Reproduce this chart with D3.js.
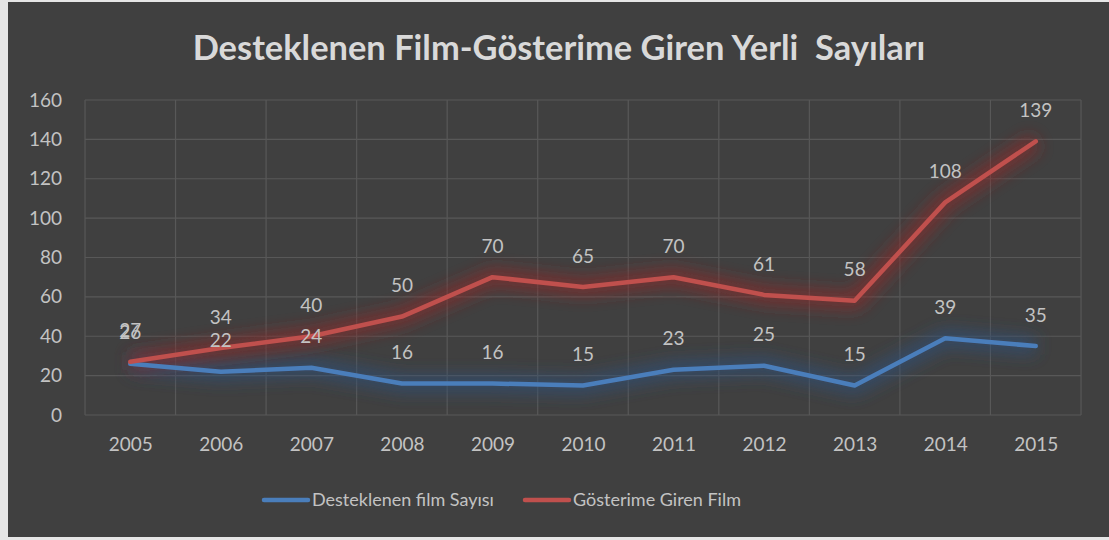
<!DOCTYPE html>
<html>
<head>
<meta charset="utf-8">
<script src="https://cdn.jsdelivr.net/npm/d3@7"></script>
<style>
  body { margin: 0; background: #ffffff; }
  svg { display: block; }
</style>
</head>
<body>
<div id="chart"></div>
<script>
const years = ["2005", "2006", "2007", "2008", "2009", "2010", "2011", "2012", "2013", "2014", "2015"];
const desteklenen = [26, 22, 24, 16, 16, 15, 23, 25, 15, 39, 35];
const gosterime = [27, 34, 40, 50, 70, 65, 70, 61, 58, 108, 139];
const yTicks = [0, 20, 40, 60, 80, 100, 120, 140, 160];
const seriesNames = ["Desteklenen film Sayısı", "Gösterime Giren Film"];
const title = "Desteklenen Film-Gösterime Giren Yerli  Sayıları";

const W = 1109, H = 540;
const font = "Lato, 'Open Sans', sans-serif";

const svg = d3.select("#chart")
  .append("svg")
  .attr("width", W)
  .attr("height", H);

// outer frame (light edge on left / top / bottom)
svg.append("rect").attr("width", W).attr("height", H).attr("fill", "#e6e6e6");
svg.append("rect")
  .attr("x", 8).attr("y", 2)
  .attr("width", W - 8).attr("height", H - 5)
  .attr("fill", "#404040");

const margin = { top: 100, left: 85, right: 28, bottom: 125 };
const plotW = W - margin.left - margin.right;
const plotH = H - margin.top - margin.bottom;

const x = d3.scalePoint()
  .domain(years)
  .range([0, plotW])
  .padding(0.5);

const band = plotW / years.length;

const y = d3.scaleLinear()
  .domain([0, 160])
  .range([plotH, 0]);

const defs = svg.append("defs");
["blue", "red"].forEach(id => {
  const f = defs.append("filter").attr("id", "glow-" + id)
    .attr("x", "-20%").attr("y", "-50%").attr("width", "140%").attr("height", "200%");
  f.append("feGaussianBlur").attr("in", "SourceGraphic").attr("stdDeviation", 8);
});

const g = svg.append("g")
  .attr("transform", `translate(${margin.left},${margin.top})`);

// gridlines
g.append("g")
  .selectAll("line")
  .data(yTicks)
  .enter()
  .append("line")
  .attr("x1", 0).attr("x2", plotW)
  .attr("y1", d => y(d)).attr("y2", d => y(d))
  .attr("stroke", "#585858")
  .attr("stroke-width", 1.2);

g.append("g")
  .selectAll("line")
  .data(d3.range(years.length + 1))
  .enter()
  .append("line")
  .attr("x1", d => d * band).attr("x2", d => d * band)
  .attr("y1", 0).attr("y2", plotH)
  .attr("stroke", "#585858")
  .attr("stroke-width", 1.2);

// y axis labels
const yAxis = g.append("g")
  .attr("transform", "translate(-23,0)")
  .call(d3.axisLeft(y).tickValues(yTicks).tickSize(0).tickPadding(0));
yAxis.select(".domain").remove();
yAxis.selectAll("text")
  .attr("fill", "#c3c3c3")
  .style("font-family", font)
  .style("font-size", "19px");

// x axis labels
const xAxis = g.append("g")
  .attr("transform", `translate(0,${plotH + 22})`)
  .call(d3.axisBottom(x).tickSize(0).tickPadding(0));
xAxis.select(".domain").remove();
xAxis.selectAll("text")
  .attr("fill", "#c3c3c3")
  .style("font-family", font)
  .style("font-size", "19px");

const line = d3.line()
  .x((d, i) => x(years[i]))
  .y(d => y(d));

const series = [
  { values: desteklenen, color: "#4a7ebb", glow: "#2f4f78", id: "blue" },
  { values: gosterime, color: "#c0504d", glow: "#8a2a28", id: "red" }
];

// glow under lines
series.forEach(s => {
  g.append("path")
    .datum(s.values)
    .attr("d", line)
    .attr("fill", "none")
    .attr("stroke", s.glow)
    .attr("stroke-width", 18)
    .attr("stroke-opacity", 0.7)
    .attr("stroke-linejoin", "round")
    .attr("filter", `url(#glow-${s.id})`);
});

series.forEach(s => {
  g.append("path")
    .datum(s.values)
    .attr("d", line)
    .attr("fill", "none")
    .attr("stroke", s.color)
    .attr("stroke-width", 4.5)
    .attr("stroke-linejoin", "round")
    .attr("stroke-linecap", "round");
});

// data labels
series.forEach(s => {
  g.append("g")
    .selectAll("text")
    .data(s.values)
    .enter()
    .append("text")
    .attr("x", (d, i) => x(years[i]))
    .attr("y", d => y(d) - 31)
    .attr("dy", "0.35em")
    .attr("text-anchor", "middle")
    .attr("fill", "#c3c3c3")
    .style("font-family", font)
    .style("font-size", "19px")
    .text(d => d);
});

// title
const t = svg.append("text")
  .attr("x", 559)
  .attr("y", 48)
  .attr("dy", "0.35em")
  .attr("text-anchor", "middle")
  .attr("fill", "#d9d9d9")
  .style("font-family", font)
  .style("font-weight", "bold")
  .style("font-size", "31px")
  .style("white-space", "pre")
  .text(title);
const tw = t.node().getComputedTextLength();
t.style("font-size", (31 * 733 / tw).toFixed(2) + "px");

// legend
const legendX = [264, 525];
const legend = svg.append("g").attr("transform", "translate(0,500)");
series.forEach((s, i) => {
  legend.append("line")
    .attr("x1", legendX[i]).attr("x2", legendX[i] + 44)
    .attr("stroke", s.color)
    .attr("stroke-width", 4.5)
    .attr("stroke-linecap", "round");
  legend.append("text")
    .attr("x", legendX[i] + 48)
    .attr("dy", "0.35em")
    .attr("fill", "#c3c3c3")
    .style("font-family", font)
    .style("font-size", "18px")
    .text(seriesNames[i]);
});
</script>
</body>
</html>
